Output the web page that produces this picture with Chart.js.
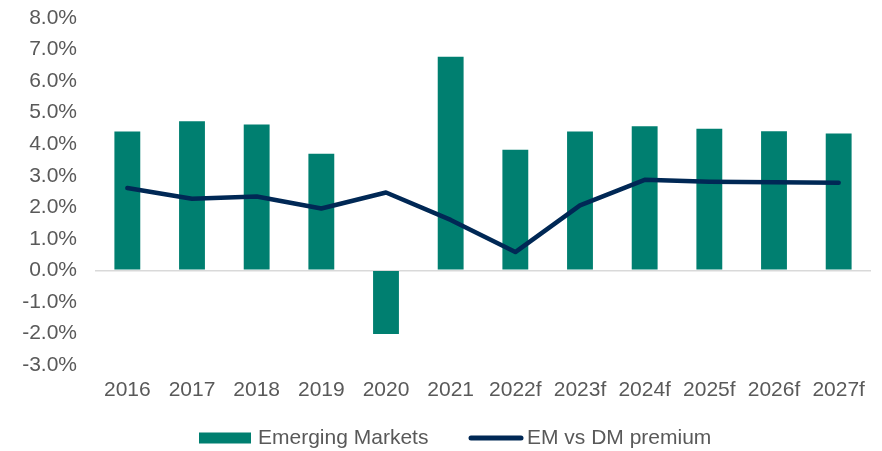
<!DOCTYPE html>
<html>
<head>
<meta charset="utf-8">
<script src="https://cdn.jsdelivr.net/npm/chart.js@4/dist/chart.umd.min.js"></script>
<style>
html,body{margin:0;padding:0;background:#fff;}
#wrap{width:882px;height:451px;position:relative;}
</style>
</head>
<body>
<div id="wrap"><canvas id="c" width="882" height="451"></canvas></div>
<script>
const categories = ["2016","2017","2018","2019","2020","2021","2022f","2023f","2024f","2025f","2026f","2027f"];
const emergingMarkets = [4.40,4.73,4.62,3.70,-2.02,6.77,3.82,4.40,4.57,4.49,4.41,4.34];
const emVsDmPremium = [2.61,2.27,2.34,1.96,2.47,1.60,0.58,2.06,2.87,2.81,2.79,2.78];
const yTicks = [-3,-2,-1,0,1,2,3,4,5,6,7,8];
const seriesNames = ["Emerging Markets","EM vs DM premium"];

const BAR_COLOR = "#007F70";
const LINE_COLOR = "#002855";
const TEXT_COLOR = "#595959";
const FONT = "'Liberation Sans', Arial, sans-serif";

const legendPlugin = {
  id: 'customLegend',
  afterDraw(chart) {
    const ctx = chart.ctx;
    ctx.save();
    const y = 438;
    ctx.fillStyle = BAR_COLOR;
    ctx.fillRect(199, y - 5.5, 52, 11);
    ctx.font = "21px " + FONT;
    ctx.fillStyle = TEXT_COLOR;
    ctx.textBaseline = "middle";
    ctx.textAlign = "left";
    ctx.fillText(seriesNames[0], 258, y);
    ctx.strokeStyle = LINE_COLOR;
    ctx.lineWidth = 5;
    ctx.lineCap = "round";
    ctx.beginPath();
    ctx.moveTo(471, y);
    ctx.lineTo(521, y);
    ctx.stroke();
    ctx.fillText(seriesNames[1], 527, y);
    ctx.restore();
  }
};

new Chart(document.getElementById('c'), {
  data: {
    labels: categories,
    datasets: [
      {
        type: 'line',
        label: seriesNames[1],
        data: emVsDmPremium,
        borderColor: LINE_COLOR,
        backgroundColor: LINE_COLOR,
        borderWidth: 4.5,
        pointRadius: 0,
        tension: 0,
        borderCapStyle: 'round',
        borderJoinStyle: 'round',
        order: 0
      },
      {
        type: 'bar',
        label: seriesNames[0],
        data: emergingMarkets,
        backgroundColor: BAR_COLOR,
        borderWidth: 0,
        barPercentage: 0.4,
        categoryPercentage: 1.0,
        order: 1
      }
    ]
  },
  options: {
    responsive: false,
    animation: false,
    layout: { padding: { left: 0, right: 11, top: 18, bottom: 0 } },
    plugins: {
      legend: { display: false },
      tooltip: { enabled: false }
    },
    scales: {
      x: {
        offset: true,
        afterFit(scale) { scale.height = 86; scale.paddingLeft = 0; scale.paddingRight = 0; },
        grid: { display: false, drawTicks: false, tickLength: 0 },
        border: { display: false },
        ticks: {
          color: TEXT_COLOR,
          font: { family: FONT, size: 21 },
          padding: 13,
          maxRotation: 0,
          autoSkip: false
        }
      },
      y: {
        min: -3,
        max: 8,
        afterFit(scale) { scale.width = 95; scale.paddingTop = 0; scale.paddingBottom = 0; },
        afterBuildTicks(scale) { scale.ticks = yTicks.map(v => ({ value: v })); },
        border: { display: false },
        grid: {
          drawTicks: false,
          color: ctx => (ctx.tick && ctx.tick.value === 0) ? '#d9d9d9' : 'rgba(0,0,0,0)',
          lineWidth: 1.5
        },
        ticks: {
          color: TEXT_COLOR,
          font: { family: FONT, size: 21 },
          padding: 18,
          callback: v => v.toFixed(1) + '%'
        }
      }
    }
  },
  plugins: [legendPlugin]
});
</script>
</body>
</html>
